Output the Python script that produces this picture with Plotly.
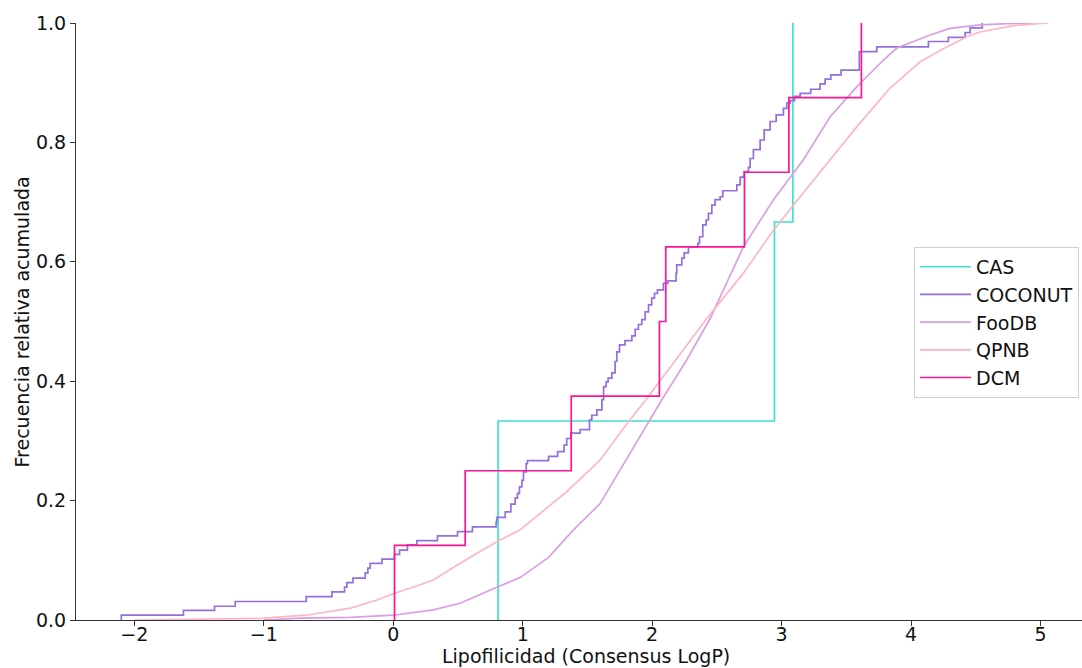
import plotly.graph_objects as go

# ---------------- data ----------------
# CAS: 3 compounds (sorted LogP values)
cas_values = [0.81, 2.945, 3.087]

# DCM: 8 compounds (sorted LogP values)
dcm_values = [0.01, 0.556, 1.375, 2.056, 2.105, 2.713, 3.056, 3.616]

# COCONUT: ECDF step positions (LogP) and cumulative level after each step
coconut_x = [-2.10, -1.62, -1.38, -1.22, -0.672, -0.473, -0.376, -0.358, -0.311,
             -0.216, -0.196, -0.178, -0.087, 0.01, 0.049, 0.11, 0.183, 0.342,
             0.497, 0.612, 0.795, 0.80, 0.865, 0.909, 0.942, 0.96, 0.975, 0.994,
             1.006, 1.027, 1.037, 1.20, 1.27, 1.32, 1.34, 1.372, 1.444, 1.516,
             1.534, 1.573, 1.612, 1.625, 1.645, 1.66, 1.689, 1.714, 1.727, 1.748,
             1.79, 1.843, 1.869, 1.894, 1.92, 1.946, 1.972, 1.997, 2.018, 2.041,
             2.087, 2.121, 2.185, 2.19, 2.229, 2.247, 2.28, 2.353, 2.366, 2.391,
             2.417, 2.435, 2.461, 2.486, 2.525, 2.546, 2.654, 2.68, 2.71, 2.744,
             2.757, 2.782, 2.834, 2.865, 2.911, 2.958, 3.014, 3.04, 3.066, 3.10,
             3.143, 3.225, 3.297, 3.336, 3.38, 3.459, 3.60, 3.735, 4.134, 4.288,
             4.417, 4.456, 4.55]
coconut_y = [0.008, 0.016, 0.023, 0.031, 0.039, 0.047, 0.055, 0.0625, 0.070,
             0.079, 0.087, 0.095, 0.102, 0.110, 0.117, 0.126, 0.133, 0.141,
             0.148, 0.156, 0.164, 0.172, 0.181, 0.194, 0.204, 0.212, 0.223, 0.234,
             0.248, 0.262, 0.267, 0.274, 0.282, 0.293, 0.304, 0.313, 0.319, 0.335,
             0.343, 0.352, 0.369, 0.391, 0.399, 0.405, 0.414, 0.433, 0.449, 0.461,
             0.468, 0.476, 0.487, 0.495, 0.503, 0.516, 0.528, 0.539, 0.547, 0.553,
             0.564, 0.568, 0.581, 0.595, 0.606, 0.615, 0.625, 0.631, 0.642, 0.662,
             0.670, 0.681, 0.695, 0.704, 0.709, 0.719, 0.729, 0.742, 0.751, 0.758,
             0.773, 0.788, 0.804, 0.821, 0.835, 0.846, 0.857, 0.866, 0.870, 0.877,
             0.882, 0.889, 0.898, 0.906, 0.913, 0.921, 0.952, 0.960, 0.969, 0.976,
             0.984, 0.992, 1.0]

# FooDB: ECDF curve points (LogP, cumulative fraction)
foodb_x = [-1.0, -0.72, -0.33, 0.0, 0.31, 0.517, 0.80, 0.98, 1.2, 1.392, 1.598,
           1.817, 2.075, 2.268, 2.448, 2.705, 2.937, 3.168, 3.375, 3.58, 3.786,
           3.89, 4.147, 4.30, 4.53, 4.75, 4.95]
foodb_y = [0.0, 0.003, 0.0045, 0.008, 0.017, 0.028, 0.055, 0.071, 0.105, 0.151,
           0.195, 0.276, 0.369, 0.436, 0.505, 0.625, 0.704, 0.771, 0.843, 0.893,
           0.938, 0.958, 0.98, 0.991, 0.997, 0.999, 1.0]

# QPNB: ECDF curve points (LogP, cumulative fraction)
qpnb_x = [-2.0, -1.5, -1.0, -0.67, -0.33, -0.13, 0.0, 0.18, 0.31, 0.517, 0.80,
          0.98, 1.20, 1.341, 1.598, 1.817, 1.959, 2.16, 2.422, 2.705, 2.937,
          3.143, 3.375, 3.58, 3.838, 4.07, 4.276, 4.43, 4.53, 4.8, 5.06]
qpnb_y = [0.0, 0.001, 0.003, 0.008, 0.02, 0.033, 0.044, 0.057, 0.067, 0.095,
          0.131, 0.151, 0.19, 0.215, 0.268, 0.332, 0.371, 0.43, 0.505, 0.581,
          0.653, 0.709, 0.771, 0.826, 0.891, 0.935, 0.96, 0.977, 0.985, 0.996, 1.0]

series_names = ["CAS", "COCONUT", "FooDB", "QPNB", "DCM"]
colors = {"CAS": "#40E0D0", "COCONUT": "#9370DB", "FooDB": "#D99FE1",
          "QPNB": "#FFB6C1", "DCM": "#FF1493"}

x_ticks = [-2, -1, 0, 1, 2, 3, 4, 5]
y_ticks = [0.0, 0.2, 0.4, 0.6, 0.8, 1.0]
x_title = "Lipofilicidad (Consensus LogP)"
y_title = "Frecuencia relativa acumulada"


def ecdf_from_values(vals):
    vals = sorted(vals)
    n = len(vals)
    xs = [vals[0]] + vals
    ys = [0.0] + [(i + 1) / n for i in range(n)]
    return xs, ys


FONT = "DejaVu Sans"
TXT = "#111"
LW = 1.7
fig = go.Figure()

cx, cy = ecdf_from_values(cas_values)
fig.add_trace(go.Scatter(x=cx, y=cy, mode="lines", name="CAS", line_shape="hv",
                         line=dict(color=colors["CAS"], width=LW)))

fig.add_trace(go.Scatter(x=[coconut_x[0]] + coconut_x, y=[0.0] + coconut_y,
                         mode="lines", name="COCONUT", line_shape="hv",
                         line=dict(color=colors["COCONUT"], width=LW)))

fig.add_trace(go.Scatter(x=foodb_x, y=foodb_y, mode="lines", name="FooDB",
                         line=dict(color=colors["FooDB"], width=LW)))

fig.add_trace(go.Scatter(x=qpnb_x, y=qpnb_y, mode="lines", name="QPNB",
                         line=dict(color=colors["QPNB"], width=LW)))

dx, dy = ecdf_from_values(dcm_values)
fig.add_trace(go.Scatter(x=dx, y=dy, mode="lines", name="DCM", line_shape="hv",
                         line=dict(color=colors["DCM"], width=LW)))

axis_common = dict(showgrid=False, zeroline=False, showline=True,
                   linecolor="#333", linewidth=1, ticks="outside", ticklen=5,
                   tickwidth=1, tickcolor="#333", automargin=False,
                   tickfont=dict(family=FONT, size=19, color=TXT))

fig.update_layout(
    width=1082, height=668,
    margin=dict(l=76, r=0, t=23, b=48),
    paper_bgcolor="white", plot_bgcolor="white",
    font=dict(family=FONT, size=19, color=TXT),
    xaxis=dict(range=[-2.45, 5.32], tickvals=x_ticks, ticklabelstandoff=-8,
               **axis_common),
    yaxis=dict(range=[0, 1], tickvals=y_ticks, tickformat=".1f",
               **axis_common),
    legend=dict(x=0.833, y=0.625, xanchor="left", yanchor="top",
                itemwidth=51,
                bgcolor="rgba(255,255,255,0.85)", bordercolor="#d0d0d0",
                borderwidth=1, font=dict(family=FONT, size=19, color=TXT)),
    showlegend=True,
    annotations=[
        dict(text=x_title, xref="paper", yref="paper", x=0.507, y=-0.061,
             xanchor="center", yanchor="middle", showarrow=False,
             font=dict(family=FONT, size=19, color=TXT)),
        dict(text=y_title, xref="paper", yref="paper", x=-0.0537, y=0.5,
             xanchor="center", yanchor="middle", textangle=-90, showarrow=False,
             font=dict(family=FONT, size=19, color=TXT)),
    ],
)

fig.write_html("out.html", config={"displayModeBar": False},
               post_script="document.body.style.margin='0px';")
